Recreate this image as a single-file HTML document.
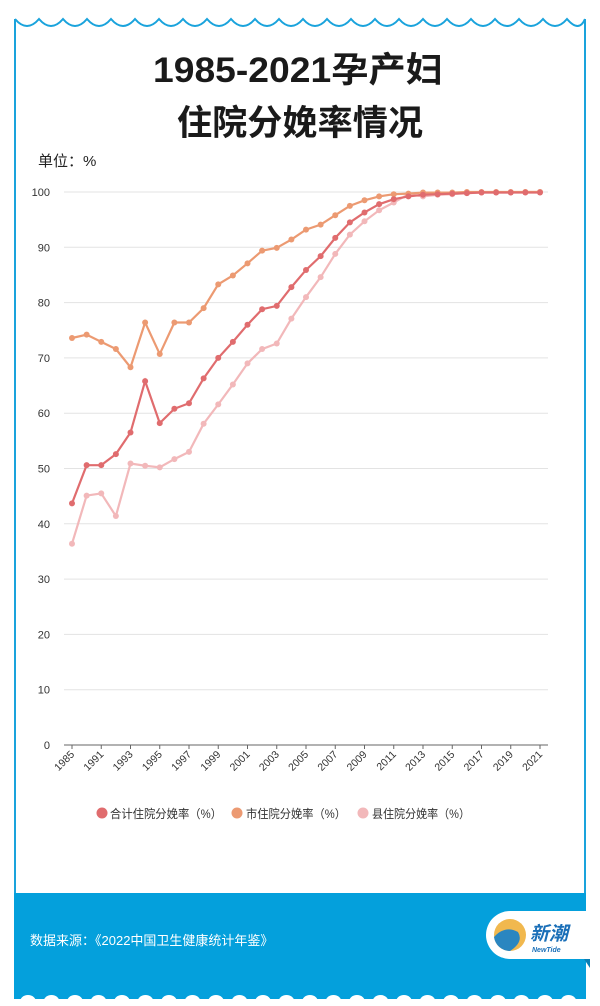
<!DOCTYPE html>
<html><head><meta charset="utf-8">
<style>
body{margin:0;background:#fff;font-family:"Liberation Sans","Noto Sans CJK SC",sans-serif;}
#page{position:relative;width:600px;height:1006px;overflow:hidden;background:#fff;}
</style></head>
<body>
<div id="page">
<svg id="svg" width="600" height="1006" xmlns="http://www.w3.org/2000/svg">
  <g id="frame">
    <path id="wave" fill="none" stroke="#1aa3dc" stroke-width="2"/>
    <line x1="15" y1="19" x2="15" y2="895" stroke="#1aa3dc" stroke-width="2"/>
    <line x1="585" y1="19" x2="585" y2="895" stroke="#1aa3dc" stroke-width="2"/>
    <rect x="14" y="893" width="572" height="107" fill="#04a0dc"/>
    <g id="bumps" fill="#fff"></g>
  </g>
  <text x="298" y="82" text-anchor="middle" font-size="35" font-weight="bold" fill="#1a1a1a" textLength="290" lengthAdjust="spacingAndGlyphs">1985-2021孕产妇</text>
  <text x="300" y="135" text-anchor="middle" font-size="35" font-weight="bold" fill="#1a1a1a" textLength="246" lengthAdjust="spacingAndGlyphs">住院分娩率情况</text>
  <text x="38" y="166" font-size="15" fill="#222">单位：%</text>
  <g id="grid"></g>
  <g id="xaxis"></g>
  <g id="series"></g>
  <g id="legend" font-size="12" fill="#333">
    <circle cx="102" cy="813" r="5.5" fill="#e06c6e"/>
    <text x="110" y="818" textLength="112" lengthAdjust="spacingAndGlyphs">合计住院分娩率（%）</text>
    <circle cx="237" cy="813" r="5.5" fill="#ec9a72"/>
    <text x="246" y="818" textLength="100" lengthAdjust="spacingAndGlyphs">市住院分娩率（%）</text>
    <circle cx="363" cy="813" r="5.5" fill="#f2b8ba"/>
    <text x="372" y="818" textLength="98" lengthAdjust="spacingAndGlyphs">县住院分娩率（%）</text>
  </g>
  <text x="30" y="945" font-size="13" fill="#fff">数据来源：《2022中国卫生健康统计年鉴》</text>
  <g>
    <path d="M588 911 L510 911 A24 24 0 0 0 510 959 L588 959 Z" fill="#fff"/>
    <path d="M584 959 L590 959 L590 968 Z" fill="#0a7fb5"/>
    <circle cx="510" cy="935" r="16" fill="#f1b84e"/>
    <path d="M494 937 Q505 925 518 932 Q524 942 510 951 A16 16 0 0 1 494 937 Z" fill="#2a86c0"/>
    <text x="530" y="940" font-size="19" font-weight="bold" font-style="italic" fill="#1a6fb8">新潮</text>
    <text x="532" y="952" font-size="7" font-weight="bold" font-style="italic" fill="#1a6fb8">NewTide</text>
  </g>
</svg>
</div>
<script>
const categories=["1985","1990","1991","1992","1993","1994","1995","1996","1997","1998","1999","2000","2001","2002","2003","2004","2005","2006","2007","2008","2009","2010","2011","2012","2013","2014","2015","2016","2017","2018","2019","2020","2021"];
const totalValues=[43.7,50.6,50.6,52.6,56.5,65.8,58.2,60.8,61.8,66.3,70.0,72.9,76.0,78.8,79.4,82.8,85.9,88.4,91.7,94.5,96.3,97.8,98.7,99.2,99.5,99.6,99.7,99.8,99.9,99.9,99.9,99.9,99.9];
const cityValues=[73.6,74.2,72.9,71.6,68.3,76.4,70.7,76.4,76.4,79.0,83.3,84.9,87.1,89.4,89.9,91.4,93.2,94.1,95.8,97.5,98.5,99.2,99.6,99.7,99.9,99.9,99.9,100,100,100,100,100,100];
const countyValues=[36.4,45.1,45.5,41.4,50.9,50.5,50.2,51.7,53.0,58.1,61.6,65.2,69.0,71.6,72.6,77.1,81.0,84.6,88.8,92.3,94.7,96.7,98.1,99.6,99.2,99.5,99.6,99.8,99.9,99.9,99.9,100,100];
const yTicks=[0,10,20,30,40,50,60,70,80,90,100];
const NS="http://www.w3.org/2000/svg";
const x0=72,x1=540,yBase=745,yTop=192,plotL=64,plotR=548;
function xs(i){return x0+(x1-x0)*i/(categories.length-1);}
function ys(v){return yBase-(yBase-yTop)*v/100;}
function mk(tag,attrs,parent){const e=document.createElementNS(NS,tag);for(const k in attrs)e.setAttribute(k,attrs[k]);parent.appendChild(e);return e;}
let d="M15 19";for(let x=15;x<585;x+=24){d+=" Q"+(x+12)+" 33 "+Math.min(x+24,585)+" 19";}
document.getElementById('wave').setAttribute('d',d);
const bumps=document.getElementById('bumps');
for(let x=28;x<585;x+=23.5){mk('ellipse',{cx:x,cy:1002,rx:8,ry:7},bumps);}
mk('rect',{x:0,y:999,width:600,height:10},bumps);
const grid=document.getElementById('grid');
yTicks.forEach(t=>{
  if(t>0){const l=mk('line',{x1:plotL,x2:plotR,y1:ys(t),y2:ys(t),stroke:'#e3e3e3','stroke-width':1},grid);
  
  }
  const tx=mk('text',{x:50,y:ys(t)+4,'text-anchor':'end','font-size':11,fill:'#333'},grid);
  tx.textContent=t;
  
  
});
const xa=document.getElementById('xaxis');
const ax=mk('line',{x1:plotL,x2:plotR,y1:yBase,y2:yBase,stroke:'#666','stroke-width':1},xa);


categories.forEach((c,i)=>{
  if(i%2!==0)return;
  const x=xs(i);
  mk('line',{x1:x,x2:x,y1:yBase,y2:yBase+4,stroke:'#666'},xa);
  const t=mk('text',{x:x+3,y:yBase+10,'text-anchor':'end','font-size':10.5,fill:'#333',transform:'rotate(-45 '+(x+3)+' '+(yBase+10)+')'},xa);
  t.textContent=c;
  
  
});
const sg=document.getElementById('series');
[[countyValues,'#f2b8ba','county'],[cityValues,'#ec9a72','city'],[totalValues,'#e06c6e','total']].forEach(([vals,col,name])=>{
  const g=mk('g',{},sg);
  
  
  const pl=mk('polyline',{points:vals.map((v,i)=>xs(i)+','+ys(v)).join(' '),fill:'none',stroke:col,'stroke-width':2.2},g);
  
  
  vals.forEach((v,i)=>{
    const c=mk('circle',{cx:xs(i),cy:ys(v),r:3,fill:col},g);
    
    
  });
});
</script>
</body></html>
